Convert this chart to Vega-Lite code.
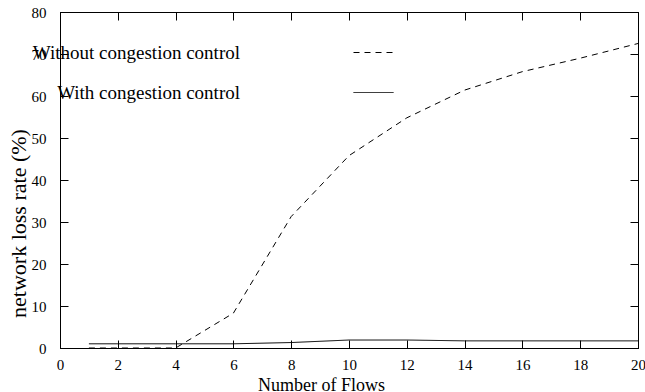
{
  "$schema": "https://vega.github.io/schema/vega-lite/v6.json",
  "width": 578,
  "height": 336,
  "autosize": {"type": "none"},
  "padding": {"left": 60, "top": 12, "right": 7, "bottom": 44},
  "background": "white",
  "config": {
    "font": "Liberation Serif, DejaVu Serif, serif",
    "view": {"stroke": "black", "strokeWidth": 1},
    "axis": {
      "domainColor": "black",
      "tickColor": "black",
      "labelColor": "black",
      "titleColor": "black",
      "labelFont": "Liberation Serif, DejaVu Serif, serif",
      "titleFont": "Liberation Serif, DejaVu Serif, serif",
      "titleFontWeight": "normal",
      "grid": false,
      "tickSize": -8,
      "labelFlush": false,
      "labelOverlap": false
    },
    "legend": {
      "labelFont": "Liberation Serif, DejaVu Serif, serif"
    }
  },
  "data": {
    "values": [
      {"flows": 1, "series": "Without congestion control", "rate": 0},
      {"flows": 2, "series": "Without congestion control", "rate": 0},
      {"flows": 4, "series": "Without congestion control", "rate": 0},
      {"flows": 6, "series": "Without congestion control", "rate": 8.3},
      {"flows": 8, "series": "Without congestion control", "rate": 31.3},
      {"flows": 10, "series": "Without congestion control", "rate": 45.8},
      {"flows": 12, "series": "Without congestion control", "rate": 54.8},
      {"flows": 14, "series": "Without congestion control", "rate": 61.4},
      {"flows": 16, "series": "Without congestion control", "rate": 65.8},
      {"flows": 18, "series": "Without congestion control", "rate": 69.0},
      {"flows": 20, "series": "Without congestion control", "rate": 72.5},
      {"flows": 1, "series": "With congestion control", "rate": 1.0},
      {"flows": 2, "series": "With congestion control", "rate": 1.0},
      {"flows": 4, "series": "With congestion control", "rate": 1.0},
      {"flows": 6, "series": "With congestion control", "rate": 1.0},
      {"flows": 8, "series": "With congestion control", "rate": 1.3},
      {"flows": 10, "series": "With congestion control", "rate": 1.9},
      {"flows": 12, "series": "With congestion control", "rate": 1.9},
      {"flows": 14, "series": "With congestion control", "rate": 1.7},
      {"flows": 16, "series": "With congestion control", "rate": 1.7},
      {"flows": 18, "series": "With congestion control", "rate": 1.7},
      {"flows": 20, "series": "With congestion control", "rate": 1.7}
    ]
  },
  "resolve": {"axis": {"x": "independent", "y": "independent"}},
  "layer": [
    {
      "mark": {"type": "line", "color": "black", "strokeWidth": 1},
      "encoding": {
        "x": {
          "field": "flows", "type": "quantitative",
          "scale": {"domain": [0, 20], "nice": false, "zero": false},
          "axis": {
            "orient": "bottom",
            "values": [0, 2, 4, 6, 8, 10, 12, 14, 16, 18, 20],
            "title": "Number of Flows",
            "titleFontSize": 18,
            "labelFontSize": 15,
            "labelPadding": 17,
            "titleX": 261,
            "titleY": 42,
            "titleBaseline": "alphabetic",
            "titleAnchor": null
          }
        },
        "y": {
          "field": "rate", "type": "quantitative",
          "scale": {"domain": [0, 80], "nice": false},
          "axis": {
            "orient": "left",
            "values": [0, 10, 20, 30, 40, 50, 60, 70, 80],
            "title": "network loss rate (%)",
            "titleFontSize": 22,
            "labelFontSize": 15,
            "labelPadding": 22,
            "titleX": -42,
            "titleY": 211,
            "titleAngle": -90,
            "titleBaseline": "middle",
            "titleAlign": "center"
          }
        },
        "strokeDash": {
          "field": "series", "type": "nominal",
          "scale": {
            "domain": ["Without congestion control", "With congestion control"],
            "range": [[6, 5], [1, 0]]
          },
          "legend": {
            "title": null,
            "orient": "none",
            "legendX": 293,
            "legendY": 20,
            "padding": 0,
            "symbolType": "stroke",
            "symbolSize": 1600,
            "symbolStrokeColor": "black",
            "symbolStrokeWidth": 1,
            "labelFontSize": 19,
            "labelColor": "black",
            "labelAlign": "right",
            "labelOffset": -154,
            "labelLimit": 400,
            "rowPadding": 9
          }
        }
      }
    },
    {
      "mark": {"type": "line", "opacity": 0},
      "encoding": {
        "x": {
          "field": "flows", "type": "quantitative",
          "axis": {
            "orient": "top",
            "values": [0, 2, 4, 6, 8, 10, 12, 14, 16, 18, 20],
            "labels": false,
            "title": null
          }
        },
        "y": {
          "field": "rate", "type": "quantitative",
          "axis": {
            "orient": "right",
            "values": [0, 10, 20, 30, 40, 50, 60, 70, 80],
            "labels": false,
            "title": null
          }
        },
        "detail": {"field": "series"}
      }
    }
  ]
}
